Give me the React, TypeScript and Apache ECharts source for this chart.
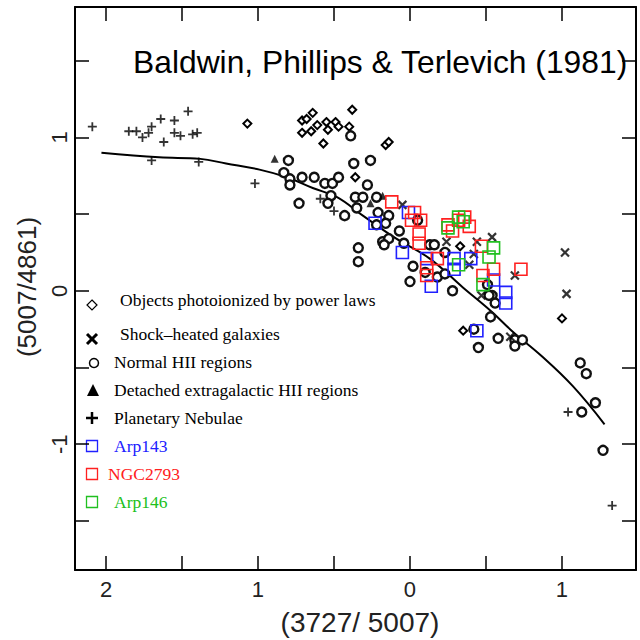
import React, { useEffect, useRef } from "react";
import * as echarts from "echarts";

// ---- data (x = log 3727/5007, y = log 5007/4861) ----
const bptCurve: number[][] = [
  [2.03, 0.9], [1.65, 0.87], [1.38, 0.86], [1.21, 0.83], [0.99, 0.79], [0.81, 0.74],
  [0.64, 0.67], [0.48, 0.61], [0.31, 0.49], [0.09, 0.34], [-0.13, 0.21], [-0.35, 0.02],
  [-0.53, -0.13], [-0.68, -0.27], [-0.86, -0.42], [-1.07, -0.62], [-1.28, -0.87],
];

const planetaryNebulae: number[][] = [
  [2.09, 1.07], [1.85, 1.04], [1.8, 1.04], [1.76, 1.0], [1.72, 1.03], [1.7, 1.07],
  [1.64, 1.12], [1.62, 0.97], [1.55, 1.11], [1.55, 1.03], [1.51, 1.01], [1.46, 1.17],
  [1.43, 1.02], [1.4, 1.03], [1.7, 0.85], [1.39, 0.84], [1.02, 0.7], [0.59, 0.6],
  [0.5, 0.52], [-1.04, -0.79], [-1.33, -1.4],
];

const powerLawObjects: number[][] = [
  [1.07, 1.09], [0.71, 1.11], [0.68, 1.12], [0.64, 1.16], [0.61, 1.08], [0.55, 1.1],
  [0.54, 1.05], [0.49, 1.1], [0.47, 1.07], [0.4, 1.07], [0.38, 1.18], [0.71, 1.03],
  [0.65, 1.04], [0.57, 0.96], [0.36, 0.74], [0.16, 0.95], [0.14, 0.97], [-0.33, 0.29],
  [-0.35, -0.26], [-1.0, -0.18],
];

const normalHII: number[][] = [
  [0.8, 0.85], [0.83, 0.77], [0.79, 0.73], [0.79, 0.69], [0.71, 0.74], [0.63, 0.74],
  [0.56, 0.7], [0.51, 0.7], [0.47, 0.74], [0.52, 0.62], [0.54, 0.57], [0.73, 0.57],
  [0.43, 0.49], [0.37, 0.83], [0.36, 0.61], [0.34, 0.28], [0.34, 0.19], [0.35, 0.54],
  [0.39, 1.01], [0.26, 0.85], [0.31, 0.61], [0.21, 0.51], [0.14, 0.49], [0.22, 0.43],
  [0.16, 0.44], [0.07, 0.39], [-0.05, 0.46], [0.18, 0.32], [0.14, 0.34], [0.17, 0.3],
  [0.04, 0.31], [-0.13, 0.3], [-0.16, 0.3], [-0.02, 0.16], [-0.1, 0.12], [-0.18, 0.09],
  [0.0, 0.06], [-0.28, 0.0], [-0.23, 0.11], [-0.51, 0.04], [-0.54, -0.03], [-0.56, -0.08],
  [-0.53, -0.17], [-0.58, -0.31], [-0.45, -0.37], [-0.69, -0.32], [-0.74, -0.32],
  [-0.69, -0.36], [-0.42, -0.25], [-0.23, 0.25], [-0.52, -0.03], [-1.12, -0.47],
  [-1.16, -0.54], [-1.22, -0.73], [-1.13, -0.79], [-1.27, -1.04], [0.28, 0.69], [0.22, 0.61],
];

const detachedHII: number[][] = [[0.89, 0.86], [0.26, 0.57], [0.18, 0.62]];

const shockHeated: number[][] = [
  [0.05, 0.56], [-0.24, 0.32], [-0.44, 0.32], [-0.54, 0.35], [-0.42, 0.24], [-0.39, 0.17],
  [-0.69, 0.1], [-0.47, -0.03], [-1.02, 0.25], [-1.03, -0.02], [-0.66, -0.3],
];

const arp143: number[][] = [
  [0.23, 0.44], [0.01, 0.51], [0.05, 0.25], [-0.11, 0.21], [-0.29, 0.21], [-0.29, 0.14],
  [-0.14, 0.03], [-0.4, 0.21], [-0.55, 0.07], [-0.63, -0.01], [-0.63, -0.08], [-0.44, -0.26],
];

const ngc2793: number[][] = [
  [0.12, 0.58], [-0.03, 0.51], [-0.07, 0.46], [-0.01, 0.46], [-0.06, 0.37], [-0.06, 0.31],
  [-0.25, 0.43], [-0.28, 0.39], [-0.36, 0.48], [-0.39, 0.42], [-0.32, 0.46], [-0.47, 0.29],
  [-0.11, 0.15], [-0.11, 0.1], [-0.18, 0.21], [-0.48, 0.1], [-0.55, 0.14], [-0.73, 0.14],
];

const arp146: number[][] = [
  [-0.25, 0.41], [-0.32, 0.48], [-0.32, 0.17], [-0.52, 0.22], [-0.55, 0.28], [-0.48, 0.04],
  [-0.35, 0.45],
];

const xTicks = [2, 1.5, 1, 0.5, 0, -0.5, -1];
const xLabels = [2, 1, 0, -1];
const yTicks = [1.5, 1, 0.5, 0, -0.5, -1, -1.5];
const yLabels = [1, 0, -1];

const legendLabels = [
  "Objects photoionized by power laws",
  "Shock\u2013heated galaxies",
  "Normal HII regions",
  "Detached extragalactic HII regions",
  "Planetary Nebulae",
  "Arp143",
  "NGC2793",
  "Arp146",
];

const chartTitle = "Baldwin, Phillips & Terlevich (1981)";
const xTitle = "(3727/ 5007)";
const yTitle = "(5007/4861)";

// ---- layout / style ----
const X_MIN = -1.487;
const X_MAX = 2.204;
const Y_MIN = -1.82;
const Y_MAX = 1.85;
const BLUE = "#2020ff";
const RED = "#ff2020";
const GREEN = "#20c020";
const SANS = "Liberation Sans";
const SERIF = "Liberation Serif";

const lineAxis = { show: true, onZero: false, lineStyle: { color: "#000", width: 2 } };

function xAxisDef(position: string, labels: boolean) {
  return {
    type: "value",
    position,
    min: X_MIN,
    max: X_MAX,
    inverse: true,
    axisLine: lineAxis,
    axisTick: { show: true, inside: true, length: 14, customValues: xTicks, lineStyle: { color: "#000", width: 1.5 } },
    axisLabel: labels
      ? {
          show: true,
          customValues: xLabels,
          formatter: (v: number) => String(Math.abs(v)),
          margin: 8,
          fontSize: 22,
          color: "#222",
          fontFamily: SANS,
        }
      : { show: false },
    splitLine: { show: false },
  };
}

function yAxisDef(position: string, labels: boolean) {
  return {
    type: "value",
    position,
    min: Y_MIN,
    max: Y_MAX,
    axisLine: lineAxis,
    axisTick: { show: true, inside: true, length: 14, customValues: yTicks, lineStyle: { color: "#000", width: 1.5 } },
    axisLabel: labels
      ? {
          show: true,
          customValues: yLabels,
          formatter: (v: number) => String(v),
          rotate: 90,
          margin: 5,
          fontSize: 22,
          color: "#222",
          fontFamily: SANS,
        }
      : { show: false },
    splitLine: { show: false },
  };
}

const legendY = [300, 334, 362, 390, 418, 446, 474, 502];
const legendX = [120, 120, 114, 114, 114, 114, 108, 114];
const legendColors = ["#000", "#000", "#000", "#000", "#000", BLUE, RED, GREEN];

function legendGraphics() {
  const els: any[] = [];
  els.push({ type: "polygon", shape: { points: [[92, 300], [97, 305], [92, 310], [87, 305]] }, style: { fill: "#fff", stroke: "#000", lineWidth: 1.2 } });
  els.push({ type: "line", shape: { x1: 87, y1: 334, x2: 97, y2: 344 }, style: { stroke: "#000", lineWidth: 3 } });
  els.push({ type: "line", shape: { x1: 97, y1: 334, x2: 87, y2: 344 }, style: { stroke: "#000", lineWidth: 3 } });
  els.push({ type: "circle", shape: { cx: 94, cy: 363, r: 4.5 }, style: { fill: "#fff", stroke: "#000", lineWidth: 1.5 } });
  els.push({ type: "polygon", shape: { points: [[93, 384], [99, 396], [87, 396]] }, style: { fill: "#000" } });
  els.push({ type: "line", shape: { x1: 86, y1: 418, x2: 98, y2: 418 }, style: { stroke: "#000", lineWidth: 2.5 } });
  els.push({ type: "line", shape: { x1: 92, y1: 412, x2: 92, y2: 424 }, style: { stroke: "#000", lineWidth: 2.5 } });
  [[446, BLUE], [474, RED], [502, GREEN]].forEach(([y, c]) => {
    els.push({ type: "rect", shape: { x: 86.5, y: (y as number) - 5.5, width: 11, height: 11 }, style: { fill: "none", stroke: c, lineWidth: 1.3 } });
  });
  legendLabels.forEach((t, i) => {
    els.push({
      type: "text",
      x: legendX[i],
      y: legendY[i],
      style: { text: t, font: `17.5px "${SERIF}"`, fill: legendColors[i], verticalAlign: "middle", align: "left" },
    });
  });
  return els;
}

const X_PATH = "path://M0,0L10,10M10,0L0,10";
const PLUS_PATH = "path://M5,0L5,10M0,5L10,5";

const option: any = {
  animation: false,
  backgroundColor: "#fff",
  grid: { left: 75, right: 4, top: 7, bottom: 70, containLabel: false },
  xAxis: [xAxisDef("bottom", true), xAxisDef("top", false)],
  yAxis: [yAxisDef("left", true), yAxisDef("right", false)],
  series: [
    { type: "line", data: bptCurve, smooth: 0.4, symbol: "none", lineStyle: { color: "#000", width: 2 }, z: 2 },
    { name: legendLabels[4], type: "scatter", data: planetaryNebulae, symbol: PLUS_PATH, symbolSize: 9, itemStyle: { color: "#000", borderColor: "#000", borderWidth: 1.8 }, z: 3 },
    { name: legendLabels[0], type: "scatter", data: powerLawObjects, symbol: "diamond", symbolSize: 8, itemStyle: { color: "#fff", borderColor: "#000", borderWidth: 2, opacity: 1 }, z: 3 },
    { name: legendLabels[2], type: "scatter", data: normalHII, symbol: "circle", symbolSize: 9, itemStyle: { color: "#fff", borderColor: "#111", borderWidth: 2.4, opacity: 1 }, z: 3 },
    { name: legendLabels[3], type: "scatter", data: detachedHII, symbol: "triangle", symbolSize: 8, itemStyle: { color: "#000" }, z: 3 },
    { name: legendLabels[1], type: "scatter", data: shockHeated, symbol: X_PATH, symbolSize: 8, itemStyle: { color: "#000", borderColor: "#000", borderWidth: 2.2 }, z: 3 },
    { name: legendLabels[5], type: "scatter", data: arp143, symbol: "rect", symbolSize: 12, itemStyle: { color: "transparent", borderColor: BLUE, borderWidth: 1.6, opacity: 1 }, z: 4 },
    { name: legendLabels[6], type: "scatter", data: ngc2793, symbol: "rect", symbolSize: 12, itemStyle: { color: "transparent", borderColor: RED, borderWidth: 1.6, opacity: 1 }, z: 4 },
    { name: legendLabels[7], type: "scatter", data: arp146, symbol: "rect", symbolSize: 12, itemStyle: { color: "transparent", borderColor: GREEN, borderWidth: 1.6, opacity: 1 }, z: 4 },
  ],
  graphic: [
    { type: "text", x: 133, y: 62, style: { text: chartTitle, font: `31.8px "${SANS}"`, fill: "#000", verticalAlign: "middle", align: "left" }, z: 10 },
    { type: "text", x: 360, y: 622, style: { text: xTitle, font: `28px "${SANS}"`, fill: "#222", verticalAlign: "middle", align: "center" } },
    { type: "text", x: 27, y: 287, rotation: Math.PI / 2, style: { text: yTitle, font: `26px "${SANS}"`, fill: "#222", verticalAlign: "middle", align: "center" } },
    ...legendGraphics(),
  ],
};

export default function App() {
  const ref = useRef<HTMLDivElement>(null);
  useEffect(() => {
    const chart = echarts.init(ref.current!, null, { renderer: "svg" });
    chart.setOption(option);
    return () => chart.dispose();
  }, []);
  return <div ref={ref} style={{ position: "absolute", left: 0, top: 0, width: 640, height: 640 }} />;
}
